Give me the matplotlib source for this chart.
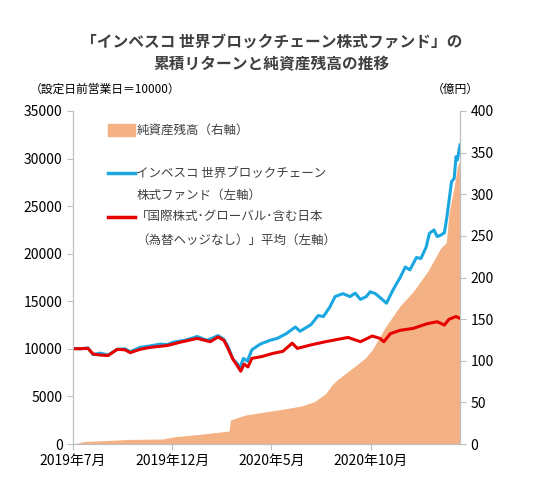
import matplotlib
matplotlib.use("Agg")
import matplotlib.pyplot as plt
import pandas as pd
from matplotlib.lines import Line2D
from matplotlib.patches import Rectangle

plt.rcParams['font.family'] = ['Noto Sans CJK JP', 'DejaVu Sans']

# 累積リターン（ファンド）
fund_dates = ['2019-07-01', '2019-07-12', '2019-07-24', '2019-08-01', '2019-08-12', '2019-08-24',
              '2019-09-07', '2019-09-19', '2019-09-27', '2019-10-12', '2019-10-27', '2019-11-12',
              '2019-11-23', '2019-12-02', '2019-12-20', '2020-01-08', '2020-01-23', '2020-02-01',
              '2020-02-09', '2020-02-18', '2020-02-24', '2020-03-03', '2020-03-09', '2020-03-14',
              '2020-03-19', '2020-03-25', '2020-04-01', '2020-04-14', '2020-04-29', '2020-05-10',
              '2020-05-24', '2020-06-07', '2020-06-14', '2020-06-25', '2020-07-01', '2020-07-12',
              '2020-07-20', '2020-07-30', '2020-08-07', '2020-08-19', '2020-08-30', '2020-09-07',
              '2020-09-15', '2020-09-24', '2020-09-30', '2020-10-08', '2020-10-15', '2020-10-25',
              '2020-11-04', '2020-11-15', '2020-11-23', '2020-11-30', '2020-12-10', '2020-12-17',
              '2020-12-25', '2020-12-30', '2021-01-06', '2021-01-11', '2021-01-17', '2021-01-22',
              '2021-01-26', '2021-02-02', '2021-02-06', '2021-02-09', '2021-02-11', '2021-02-15']
fund_vals = [10050, 10000, 10100, 9400, 9550, 9350,
             9950, 10000, 9700, 10150, 10300, 10500,
             10450, 10700, 10900, 11300, 10900, 11150,
             11400, 11000, 10300, 8900, 8500, 8050,
             9000, 8700, 9900, 10500, 10900, 11100,
             11600, 12300, 11850, 12300, 12550, 13500,
             13400, 14400, 15500, 15800, 15500, 15850,
             15200, 15500, 16000, 15800, 15400, 14800,
             16190, 17500, 18600, 18300, 19600, 19500,
             20700, 22140, 22500, 21800, 21970, 22200,
             23900, 27570, 27900, 30200, 29850, 31430]

# 累積リターン（「国際株式・グローバル・含む日本（為替ヘッジなし）」平均）
peer_dates = ['2019-07-01', '2019-07-24', '2019-08-01', '2019-08-12', '2019-08-24', '2019-09-07',
              '2019-09-19', '2019-09-27', '2019-10-12', '2019-10-27', '2019-11-23', '2019-12-13',
              '2020-01-08', '2020-01-28', '2020-02-09', '2020-02-18', '2020-02-24', '2020-03-03',
              '2020-03-09', '2020-03-15', '2020-03-20', '2020-03-26', '2020-04-01', '2020-04-17',
              '2020-05-02', '2020-05-19', '2020-06-02', '2020-06-10', '2020-06-30', '2020-07-23',
              '2020-08-15', '2020-08-27', '2020-09-15', '2020-10-03', '2020-10-15', '2020-10-21',
              '2020-10-31', '2020-11-15', '2020-12-05', '2020-12-27', '2021-01-11', '2021-01-22',
              '2021-01-29', '2021-02-09', '2021-02-15']
peer_vals = [10000, 10050, 9450, 9350, 9300, 9950,
             9900, 9600, 9950, 10150, 10350, 10700,
             11100, 10750, 11250, 10900, 10100, 8900,
             8300, 7650, 8400, 8100, 9000, 9200,
             9500, 9750, 10600, 10050, 10400, 10750,
             11050, 11200, 10750, 11350, 11100, 10750,
             11600, 11950, 12150, 12650, 12850, 12500,
             13100, 13400, 13200]

# 純資産残高（億円）
aum_dates = ['2019-07-01', '2019-07-19', '2019-09-27', '2019-11-16', '2019-12-05', '2020-01-12',
             '2020-02-26', '2020-02-28', '2020-03-22', '2020-04-24', '2020-05-18', '2020-06-16',
             '2020-07-06', '2020-07-24', '2020-08-02', '2020-08-10', '2020-08-30', '2020-09-22',
             '2020-10-03', '2020-10-23', '2020-11-15', '2020-12-05', '2020-12-27', '2021-01-07',
             '2021-01-16', '2021-01-25', '2021-01-29', '2021-02-06', '2021-02-11', '2021-02-15']
aum_vals = [0, 3, 5.5, 6, 8.8, 11.6,
            15.6, 28.8, 34.8, 38.8, 41.7, 45.6,
            50.8, 60.9, 70.9, 76.9, 88.9, 103,
            113, 140, 166, 183, 207, 222,
            235, 242, 277, 309, 333, 341]

xtick_dates = ['2019-07-01', '2019-12-01', '2020-05-01', '2020-10-01']
xtick_labels = ['2019年7月', '2019年12月', '2020年5月', '2020年10月']

fund_x = pd.to_datetime(fund_dates)
peer_x = pd.to_datetime(peer_dates)
aum_x = pd.to_datetime(aum_dates)

text_col = '#404040'
grey = '#bfbfbf'
orange = '#F4B183'
blue = '#1AA7E1'
red = '#E60000'

fig = plt.figure(figsize=(5.43, 5.0), dpi=100)
ax2 = fig.add_axes([0.1344, 0.112, 0.7127, 0.666])
ax = ax2.twinx()
ax.yaxis.tick_left()
ax2.yaxis.tick_right()

ax2.fill_between(aum_x, 0, aum_vals, color=orange, linewidth=0)
ax.plot(fund_x, fund_vals, color=blue, linewidth=2.2)
ax.plot(peer_x, peer_vals, color=red, linewidth=2.2)

ax.set_ylim(0, 35000)
ax.set_yticks(range(0, 35001, 5000))
ax2.set_ylim(0, 400)
ax2.set_yticks(range(0, 401, 50))
ax.set_xlim(pd.Timestamp('2019-07-01'), pd.Timestamp('2021-02-15'))
ax.set_xticks(pd.to_datetime(xtick_dates))
ax.set_xticklabels(xtick_labels)

for a in (ax, ax2):
    a.spines['top'].set_visible(False)
    for s in ('left', 'right', 'bottom'):
        a.spines[s].set_color(grey)
    a.tick_params(colors=grey, labelcolor='black', labelsize=10, length=4)
ax.tick_params(axis='x', pad=6)

fig.text(0.5, 0.916, '「インベスコ 世界ブロックチェーン株式ファンド」の', ha='center', va='center',
         fontsize=11.3, fontweight='bold', color=text_col)
fig.text(0.5, 0.872, '累積リターンと純資産残高の推移', ha='center', va='center',
         fontsize=11.3, fontweight='bold', color=text_col)
fig.text(0.055, 0.822, '（設定日前営業日＝10000）', ha='left', va='center', fontsize=8.5, color='black')
fig.text(0.795, 0.822, '（億円）', ha='left', va='center', fontsize=8.5, color='black')

# 凡例
fig.patches.append(Rectangle((0.199, 0.729), 0.05, 0.022, transform=fig.transFigure,
                             color=orange, figure=fig))
fig.lines.append(Line2D([0.199, 0.249], [0.654, 0.654], transform=fig.transFigure,
                        color=blue, linewidth=2.5))
fig.lines.append(Line2D([0.199, 0.249], [0.566, 0.566], transform=fig.transFigure,
                        color=red, linewidth=2.5))
leg_kw = dict(ha='left', va='center', fontsize=9, color=text_col)
fig.text(0.251, 0.740, '純資産残高（右軸）', **leg_kw)
fig.text(0.251, 0.654, 'インベスコ 世界ブロックチェーン', **leg_kw)
fig.text(0.251, 0.610, '株式ファンド（左軸）', **leg_kw)
fig.text(0.251, 0.568, '「国際株式･グローバル･含む日本', **leg_kw)
fig.text(0.251, 0.520, '（為替ヘッジなし）」平均（左軸）', **leg_kw)

fig.savefig('out.png', dpi=100)
